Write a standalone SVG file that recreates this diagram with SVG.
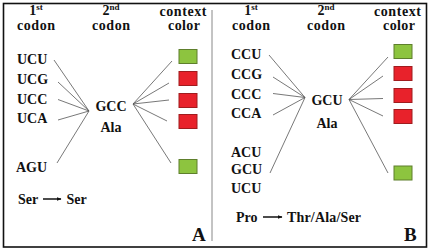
<svg xmlns="http://www.w3.org/2000/svg" width="430" height="252" viewBox="0 0 430 252">
<defs>
<style>
text{font-family:"Liberation Serif","Times New Roman",serif;font-weight:bold;fill:#111;}
.h{font-size:14px;text-anchor:middle;}
.sup{font-size:9px;}
.c{font-size:14px;}
.m{font-size:14px;text-anchor:middle;}
.big{font-size:19px;}
.ln{stroke:#555;stroke-width:0.8;fill:none;}
.g{fill:#8DC43F;stroke:#5E7F2C;stroke-width:1;}
.r{fill:#E8222B;stroke:#A01C1E;stroke-width:1;}
.arr{stroke:#111;stroke-width:1.5;marker-end:url(#ah);}
</style>
<marker id="ah" viewBox="0 0 10 10" refX="9" refY="5" markerWidth="5" markerHeight="5" orient="auto" markerUnits="userSpaceOnUse">
<path d="M0,1 L10,5 L0,9 z" fill="#111"/>
</marker>
</defs>
<rect x="0" y="0" width="430" height="252" fill="#fff"/>
<rect x="3.5" y="3.5" width="423" height="243.5" fill="none" stroke="#111" stroke-width="1.6"/>
<line x1="212" y1="10" x2="212" y2="241" stroke="#888" stroke-width="1"/>

<g id="connectors">
<line class="ln" x1="54" y1="60" x2="89" y2="111"/>
<line class="ln" x1="58" y1="82" x2="89" y2="111"/>
<line class="ln" x1="58" y1="99.5" x2="89" y2="111"/>
<line class="ln" x1="58" y1="120" x2="89" y2="111"/>
<line class="ln" x1="57" y1="163" x2="89" y2="111"/>
<line class="ln" x1="133" y1="104" x2="172" y2="61"/>
<line class="ln" x1="133" y1="104" x2="169" y2="83"/>
<line class="ln" x1="133" y1="104" x2="169" y2="100"/>
<line class="ln" x1="133" y1="104" x2="167" y2="121"/>
<line class="ln" x1="133" y1="104" x2="171" y2="163"/>
<line class="ln" x1="269" y1="55" x2="305" y2="97.5"/>
<line class="ln" x1="273" y1="77" x2="305" y2="97.5"/>
<line class="ln" x1="273" y1="93.5" x2="305" y2="97.5"/>
<line class="ln" x1="273" y1="115" x2="305" y2="97.5"/>
<line class="ln" x1="270" y1="173" x2="305" y2="97.5"/>
<line class="ln" x1="349" y1="99.5" x2="388" y2="57"/>
<line class="ln" x1="349" y1="99.5" x2="383" y2="76"/>
<line class="ln" x1="349" y1="99.5" x2="383" y2="98.5"/>
<line class="ln" x1="349" y1="99.5" x2="383" y2="116"/>
<line class="ln" x1="349" y1="99.5" x2="388" y2="173"/>
<line class="arr" x1="43" y1="199" x2="61" y2="199"/>
<line class="arr" x1="263" y1="217" x2="282" y2="217"/>
</g>

<g id="headers-A">
<text class="h" x="36" y="15">1<tspan class="sup" dy="-5">st</tspan></text>
<text class="h" x="36" y="29.5" textLength="38">codon</text>
<text class="h" x="111" y="15">2<tspan class="sup" dy="-5">nd</tspan></text>
<text class="h" x="111" y="29.5" textLength="38">codon</text>
<text class="h" x="183" y="16" textLength="47">context</text>
<text class="h" x="184" y="30" textLength="32">color</text>
</g>
<g id="codon-UCU-A"><text class="c" x="17" y="64">UCU</text></g>
<g id="codon-UCG-A"><text class="c" x="17" y="84">UCG</text></g>
<g id="codon-UCC-A"><text class="c" x="17" y="104">UCC</text></g>
<g id="codon-UCA-A"><text class="c" x="17" y="123">UCA</text></g>
<g id="codon-AGU-A"><text class="c" x="16" y="172">AGU</text></g>
<g id="center-A"><text class="m" x="111" y="111">GCC</text><text class="m" x="111" y="132">Ala</text></g>
<g id="color-A1"><rect class="g" x="179" y="49.5" width="18" height="14"/></g>
<g id="color-A2"><rect class="r" x="179" y="71.5" width="18" height="14"/></g>
<g id="color-A3"><rect class="r" x="179" y="93.5" width="18" height="14"/></g>
<g id="color-A4"><rect class="r" x="179" y="114.5" width="18" height="14"/></g>
<g id="color-A5"><rect class="g" x="179" y="159.5" width="18" height="14"/></g>
<g id="label-A">
<text class="c" x="18" y="204">Ser</text>
<text class="c" x="66.5" y="204">Ser</text>
<text class="big" x="192" y="241">A</text>
</g>

<g id="headers-B">
<text class="h" x="251" y="15">1<tspan class="sup" dy="-5">st</tspan></text>
<text class="h" x="251" y="29.5" textLength="38">codon</text>
<text class="h" x="326" y="15">2<tspan class="sup" dy="-5">nd</tspan></text>
<text class="h" x="326" y="29.5" textLength="38">codon</text>
<text class="h" x="397.5" y="16" textLength="47">context</text>
<text class="h" x="399" y="30" textLength="32">color</text>
</g>
<g id="codon-CCU-B"><text class="c" x="231" y="59">CCU</text></g>
<g id="codon-CCG-B"><text class="c" x="231" y="79">CCG</text></g>
<g id="codon-CCC-B"><text class="c" x="231" y="98.5">CCC</text></g>
<g id="codon-CCA-B"><text class="c" x="231" y="118">CCA</text></g>
<g id="codon-ACU-B"><text class="c" x="231" y="156.5">ACU</text></g>
<g id="codon-GCU2-B"><text class="c" x="231" y="173.5">GCU</text></g>
<g id="codon-UCU-B"><text class="c" x="231" y="192.5">UCU</text></g>
<g id="center-B"><text class="m" x="327" y="105">GCU</text><text class="m" x="327" y="128">Ala</text></g>
<g id="color-B1"><rect class="g" x="394" y="44.5" width="18" height="14"/></g>
<g id="color-B2"><rect class="r" x="394" y="66.5" width="18" height="14"/></g>
<g id="color-B3"><rect class="r" x="394" y="88.5" width="18" height="14"/></g>
<g id="color-B4"><rect class="r" x="394" y="109.5" width="18" height="14"/></g>
<g id="color-B5"><rect class="g" x="394" y="166" width="18" height="14"/></g>
<g id="label-B">
<text class="c" x="236" y="221.5">Pro</text>
<text class="c" x="287" y="221.5" textLength="74">Thr/Ala/Ser</text>
<text class="big" x="404" y="241">B</text>
</g>
</svg>
